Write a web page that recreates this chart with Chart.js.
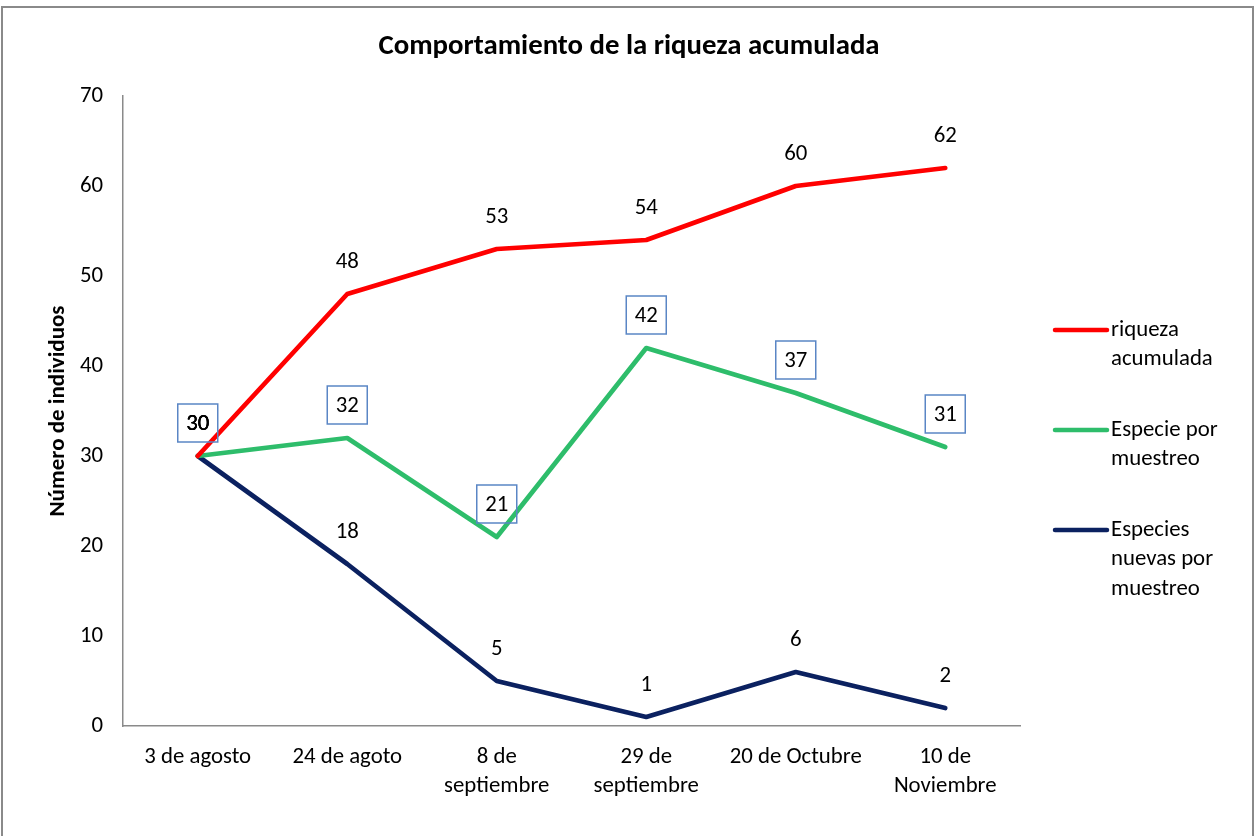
<!DOCTYPE html>
<html>
<head>
<meta charset="utf-8">
<script src="https://cdn.jsdelivr.net/npm/chart.js@4/dist/chart.umd.min.js"></script>
<style>
html,body{margin:0;padding:0;background:#fff;}
#wrap{width:1254px;height:836px;position:relative;}
</style>
</head>
<body>
<div id="wrap"><canvas id="c" width="1254" height="836"></canvas></div>
<script>
const categories = [
  '3 de agosto',
  '24 de agoto',
  ['8 de', 'septiembre'],
  ['29 de', 'septiembre'],
  '20 de Octubre',
  ['10 de', 'Noviembre']
];
const riquezaAcumulada = [30, 48, 53, 54, 60, 62];
const especiePorMuestreo = [30, 32, 21, 42, 37, 31];
const especiesNuevas = [30, 18, 5, 1, 6, 2];
const seriesNames = [['riqueza', 'acumulada'], ['Especie por', 'muestreo'], ['Especies', 'nuevas por', 'muestreo']];
const yTicks = [0, 10, 20, 30, 40, 50, 60, 70];

const FONT = 'Carlito, "Liberation Sans Narrow", "Liberation Sans", sans-serif';
const colors = ['#FF0000', '#2EBD6B', '#0B2160'];

const decor = {
  id: 'decor',
  beforeDraw(chart) {
    const ctx = chart.ctx;
    ctx.save();
    ctx.fillStyle = '#fff';
    ctx.fillRect(0, 0, chart.width, chart.height);
    ctx.strokeStyle = '#8a8a8a';
    ctx.lineWidth = 2;
    ctx.strokeRect(2, 7, 1251, 840);
    ctx.restore();
  },
  afterDatasetsDraw(chart) {
    const ctx = chart.ctx;
    ctx.save();
    ctx.font = '22.8px ' + FONT;
    ctx.textAlign = 'center';
    ctx.textBaseline = 'middle';
    chart.data.datasets.forEach((ds, di) => {
      const meta = chart.getDatasetMeta(di);
      meta.data.forEach((pt, i) => {
        const x = pt.x, y = pt.y - 33;
        if (di === 1) {
          ctx.strokeStyle = '#5A86C5';
          ctx.lineWidth = 1.5;
          ctx.strokeRect(x - 20, y - 19, 40, 38);
        }
        ctx.fillStyle = '#000';
        ctx.fillText(String(ds.data[i]), x, y + 1);
      });
    });
    ctx.restore();
  },
  afterDraw(chart) {
    const ctx = chart.ctx;
    ctx.save();
    // title
    ctx.fillStyle = '#000';
    ctx.font = 'bold 28.8px ' + FONT;
    ctx.textAlign = 'center';
    ctx.textBaseline = 'middle';
    ctx.fillText('Comportamiento de la riqueza acumulada', 629, 47);
    // y title
    ctx.save();
    ctx.translate(58, 411);
    ctx.rotate(-Math.PI / 2);
    ctx.font = 'bold 23px ' + FONT;
    ctx.fillText('Número de individuos', 0, 0);
    ctx.restore();
    // legend
    const starts = [330, 430, 530];
    ctx.font = '22.8px ' + FONT;
    ctx.textAlign = 'left';
    seriesNames.forEach((lines, i) => {
      const y0 = starts[i];
      ctx.strokeStyle = colors[i];
      ctx.lineWidth = 4.5;
      ctx.lineCap = 'round';
      ctx.beginPath();
      ctx.moveTo(1055, y0);
      ctx.lineTo(1107, y0);
      ctx.stroke();
      ctx.fillStyle = '#000';
      lines.forEach((t, k) => ctx.fillText(t, 1111, y0 + k * 29.5));
    });
    ctx.restore();
  }
};

new Chart(document.getElementById('c'), {
  type: 'line',
  data: {
    labels: categories,
    datasets: [
      { label: 'riqueza acumulada', data: riquezaAcumulada, borderColor: colors[0] },
      { label: 'Especie por muestreo', data: especiePorMuestreo, borderColor: colors[1] },
      { label: 'Especies nuevas por muestreo', data: especiesNuevas, borderColor: colors[2] }
    ].map(d => Object.assign(d, { borderWidth: 4.7, pointRadius: 0, tension: 0, fill: false, borderJoinStyle: 'round', borderCapStyle: 'round' }))
  },
  options: {
    responsive: false,
    animation: false,
    layout: { padding: { top: 96, right: 234, bottom: 0, left: 0 } },
    plugins: { legend: { display: false }, title: { display: false }, tooltip: { enabled: false } },
    scales: {
      x: {
        offset: true,
        grid: { display: false, drawTicks: false },
        border: { color: '#8a8a8a', width: 1.5 },
        ticks: { color: '#000', font: { family: FONT, size: 22.8, lineHeight: 1.28 }, padding: 17, maxRotation: 0, autoSkip: false },
        afterFit(s) { s.height = 110; }
      },
      y: {
        min: 0, max: 70,
        afterBuildTicks(s) { s.ticks = yTicks.map(v => ({ value: v })); },
        grid: { display: false, drawTicks: false },
        border: { color: '#8a8a8a', width: 1.5 },
        ticks: { color: '#000', font: { family: FONT, size: 22.8 }, padding: 20 },
        afterFit(s) { s.width = 123; }
      }
    }
  },
  plugins: [decor]
});
</script>
</body>
</html>
